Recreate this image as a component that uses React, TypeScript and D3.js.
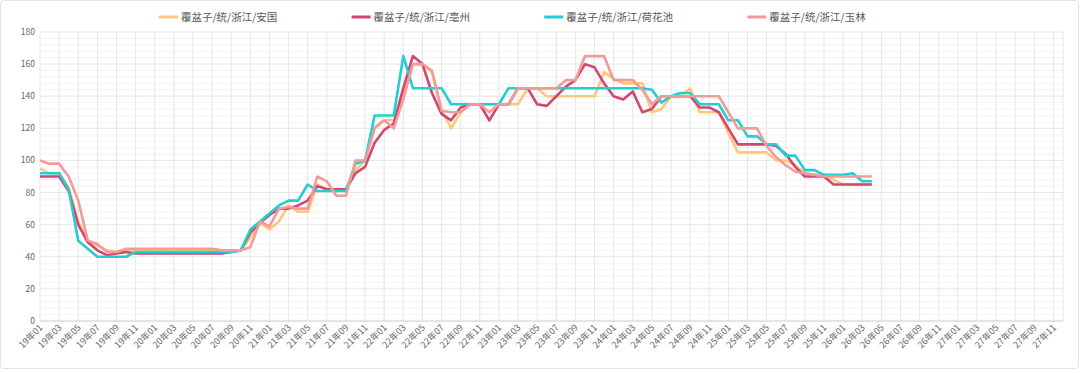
import React from 'react';
import { scalePoint, scaleLinear, line, range } from 'd3';

// months 19年01 .. 27年12
const categories: string[] = [];
for (let yy = 19; yy <= 27; yy++) {
  for (let mm = 1; mm <= 12; mm++) categories.push(`${yy}年${String(mm).padStart(2, '0')}`);
}

const seriesNames = ['覆盆子/统/浙江/安国', '覆盆子/统/浙江/亳州', '覆盆子/统/浙江/荷花池', '覆盆子/统/浙江/玉林'];
const colors = ['#fec878', '#d2466f', '#22ced2', '#f49a9a'];

const anguo = [
  95, 92, 92, 83, 62, 50, 47, 44, 43, 44, 44, 44, 44, 44, 44, 44, 44, 44, 44, 44,
  44, 44, 52, 61, 57, 62, 72, 68, 68, 85, 82, 82, 82, 94, 100, 121, 125, 125, 142, 160,
  160, 155, 131, 120, 130, 135, 135, 135, 135, 135, 135, 145, 145, 140, 140, 140, 140, 140, 140, 155,
  151, 148, 148, 148, 130, 132, 140, 140, 145, 130, 130, 130, 117, 105, 105, 105, 105, 100, 100, 97,
  92, 91, 91, 88, 85, 85, 85, 85,
];
const bozhou = [
  90, 90, 90, 81, 60, 49, 44, 41, 42, 43, 42, 42, 42, 42, 42, 42, 42, 42, 42, 42,
  43, 44, 55, 61, 66, 70, 70, 72, 75, 84, 82, 82, 82, 92, 96, 111, 119, 123, 145, 165,
  160, 142, 129, 125, 133, 135, 135, 125, 135, 135, 145, 145, 135, 134, 140, 146, 150, 160, 158, 148,
  140, 138, 143, 130, 132, 140, 140, 140, 140, 133, 133, 130, 120, 110, 110, 110, 110, 109, 104, 96,
  90, 90, 90, 85, 85, 85, 85, 85,
];
const hehuachi = [
  92, 92, 92, 82, 50, 45, 40, 40, 40, 40, 43, 43, 43, 43, 43, 43, 43, 43, 43, 43,
  43, 44, 57, 62, 67, 72, 75, 75, 85, 81, 81, 81, 81, 98, 100, 128, 128, 128, 165, 145,
  145, 145, 145, 135, 135, 135, 135, 135, 135, 145, 145, 145, 145, 145, 145, 145, 145, 145, 145, 145,
  145, 145, 145, 145, 144, 136, 140, 142, 142, 135, 135, 135, 125, 125, 115, 115, 110, 110, 103, 103,
  94, 94, 91, 91, 91, 92, 87, 87,
];
const yulin = [
  100, 98, 98, 90, 75, 50, 48, 43, 43, 45, 45, 45, 45, 45, 45, 45, 45, 45, 45, 44,
  44, 44, 46, 62, 59, 70, 71, 70, 70, 90, 87, 78, 78, 100, 100, 120, 125, 120, 138, 160,
  160, 156, 131, 130, 130, 135, 135, 130, 135, 135, 145, 145, 145, 145, 145, 150, 150, 165, 165, 165,
  150, 150, 150, 144, 135, 140, 140, 140, 140, 140, 140, 140, 130, 120, 120, 120, 109, 102, 97, 93,
  92, 91, 90, 90, 90, 90, 90, 90,
];
const seriesValues = [anguo, bozhou, hehuachi, yulin];

const yTicks = range(0, 181, 20);

const W = 1080;
const H = 374;
const plot = { left: 40, right: 1063, top: 32, bottom: 321 };
const font = '"Noto Sans CJK SC", "Noto Sans", sans-serif';

const App: React.FC = () => {
  const x = scalePoint<string>().domain(categories).range([plot.left, plot.right]);
  const y = scaleLinear().domain([0, 180]).range([plot.bottom, plot.top]);

  const minorTicks = range(0, 180, 4).filter(v => v % 20 !== 0);
  const labelCats = categories.filter((_, i) => i % 2 === 0);

  const path = line<number>()
    .x((_, i) => x(categories[i])!)
    .y(d => y(d));

  // legend layout
  const legendFont = 10.5;
  const textW = (s: string) =>
    Array.from(s).reduce((w, ch) => w + (ch === '/' ? legendFont * 0.4 : legendFont), 0);
  let lx = 159;
  const legendPos = seriesNames.map(n => {
    const p = lx;
    lx += 23 + textW(n) + 73;
    return p;
  });

  return (
    <svg width={W} height={H} style={{ position: 'absolute', left: 0, top: 0, background: '#fff' }} fontFamily={font}>
      <rect x={0.5} y={0.5} width={W - 2} height={H - 6} rx={3} fill="#fff" stroke="#e3e3e3" />

      {/* minor grid */}
      {minorTicks.map(v => (
        <line key={'m' + v} x1={plot.left} x2={plot.right} y1={y(v)} y2={y(v)} stroke="#f4f4f4" />
      ))}
      {/* major grid */}
      {yTicks.map(v => (
        <line key={'h' + v} x1={plot.left} x2={plot.right} y1={y(v)} y2={y(v)} stroke="#e6e6e6" />
      ))}
      {labelCats.map(c => (
        <line key={'v' + c} x1={x(c)} x2={x(c)} y1={plot.top} y2={plot.bottom} stroke="#e6e6e6" />
      ))}
      <line x1={plot.right} x2={plot.right} y1={plot.top} y2={plot.bottom} stroke="#e6e6e6" />
      <line x1={plot.left} x2={plot.right} y1={plot.bottom} y2={plot.bottom} stroke="#d6d6d6" />

      {/* y labels */}
      {yTicks.map(v => (
        <text key={'yl' + v} x={35} y={y(v)} dy="0.35em" textAnchor="end" fontSize={8.5} fill="#666">
          {v}
        </text>
      ))}

      {/* x labels */}
      {labelCats.map(c => (
        <text
          key={'xl' + c}
          transform={`translate(${x(c)! + 1},${plot.bottom + 5}) rotate(-45)`}
          textAnchor="end"
          dy="0.35em"
          fontSize={9}
          fill="#666"
        >
          {c}
        </text>
      ))}

      {/* series */}
      {seriesValues.map((vals, k) => (
        <path
          key={'s' + k}
          d={path(vals) ?? ''}
          fill="none"
          stroke={colors[k]}
          strokeWidth={2.6}
          strokeLinejoin="round"
        />
      ))}

      {/* legend */}
      {seriesNames.map((n, k) => (
        <g key={'lg' + k} transform={`translate(${legendPos[k]},17)`}>
          <line x1={0} x2={19} y1={0} y2={0} stroke={colors[k]} strokeWidth={3} />
          <text x={22} dy="0.35em" fontSize={legendFont} fill="#555">
            {n}
          </text>
        </g>
      ))}
    </svg>
  );
};

export default App;
